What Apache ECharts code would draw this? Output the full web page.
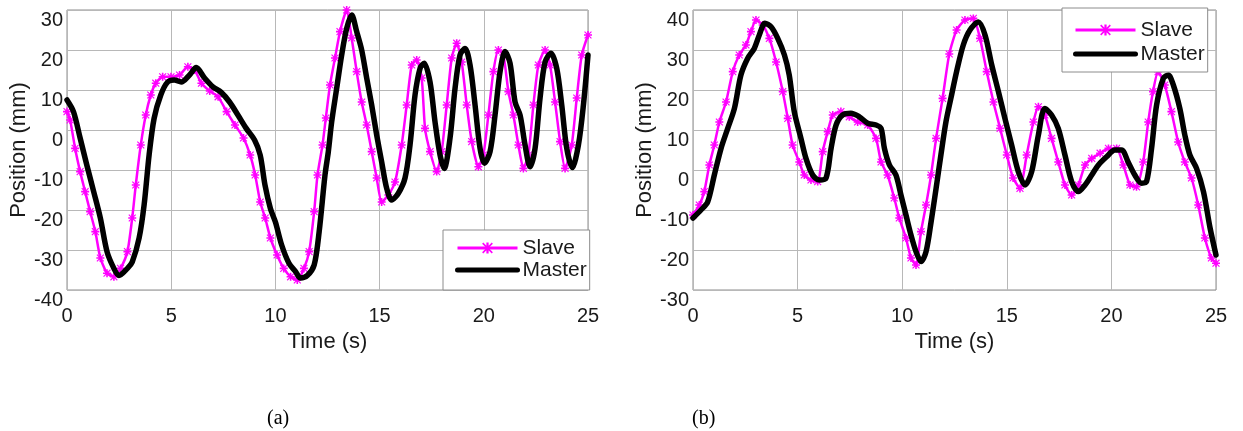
<!DOCTYPE html>
<html>
<head>
<meta charset="utf-8">
<script src="https://cdn.jsdelivr.net/npm/echarts@6/dist/echarts.min.js"></script>
<style>
html,body{margin:0;padding:0;background:#fff;}
#chart{width:1243px;height:431px;}
</style>
</head>
<body>
<div id="chart"></div>
<script>
// ---- Data ----
const xTicks = [0, 5, 10, 15, 20, 25];
const yTicksA = [-40, -30, -20, -10, 0, 10, 20, 30];
const yTicksB = [-30, -20, -10, 0, 10, 20, 30, 40];
const seriesNames = ['Slave', 'Master'];
const captions = ['(a)', '(b)'];

// Plot (a)
const slaveA_t = [0,0.15,0.39,0.63,0.87,1.11,1.36,1.6,1.92,2.25,2.57,2.9,3.13,3.3,3.54,3.78,4.02,4.26,4.59,4.99,5.4,5.8,6.12,6.45,6.85,7.25,7.66,8.06,8.47,8.79,9.03,9.27,9.51,9.76,10.08,10.4,10.73,11.05,11.37,11.62,11.86,12.02,12.26,12.42,12.62,12.86,13.1,13.42,13.66,13.9,14.14,14.38,14.62,14.86,15.1,15.42,15.74,16.06,16.3,16.54,16.78,17.02,17.18,17.42,17.74,17.98,18.22,18.46,18.7,18.94,19.18,19.42,19.74,19.98,20.22,20.46,20.7,20.94,21.18,21.42,21.66,21.9,22.14,22.38,22.62,22.94,23.18,23.42,23.66,23.9,24.22,24.46,24.7,25];
const slaveA_v = [4.6,2.5,-4.6,-10.4,-15.4,-20.4,-25.4,-32,-35.8,-36.7,-34.6,-30.4,-22,-13.75,-3.75,3.75,8.75,11.7,13.3,13.3,13.75,15.8,15,11.7,9.75,8.3,4.6,1.25,-2,-6.25,-11.25,-18,-22,-27,-31.25,-34.6,-36.7,-37.5,-34.6,-30.4,-20.4,-11.25,-3.75,3,11.25,18,24.6,30,23,14.6,7,1.25,-5.4,-12,-18,-16.25,-13,-3.75,6.25,16.25,17.5,13,0.4,-5.4,-10.4,-5.4,6.25,18,21.7,17,6.25,-2.9,-9.2,-6.25,3.75,14.6,20,18.75,9.6,3.75,-3.75,-9.6,-6.25,6.25,16.25,20,16.25,7,-2.9,-9.6,-3.75,8,18.75,23.75];
const masterA_t = [0,0.31,0.63,0.95,1.28,1.6,1.92,2.25,2.49,2.9,3.13,3.46,3.7,3.94,4.18,4.5,4.83,5.15,5.48,5.88,6.2,6.6,7.0,7.4,7.8,8.2,8.6,9.0,9.27,9.5,9.76,10,10.3,10.65,10.97,11.2,11.53,11.86,12.1,12.38,12.54,12.7,12.94,13.18,13.42,13.66,13.9,14.14,14.38,14.62,14.86,15.1,15.34,15.58,15.9,16.22,16.46,16.7,16.94,17.14,17.42,17.66,17.9,18.1,18.38,18.62,18.86,19.1,19.34,19.58,19.82,20.03,20.3,20.54,20.78,21.02,21.26,21.5,21.74,21.98,22.22,22.46,22.7,22.94,23.22,23.5,23.74,23.98,24.25,24.54,24.78,25];
const masterA_v = [7.5,4.6,-2,-8.75,-15.4,-22,-30.4,-34.6,-36.4,-34.6,-33,-27,-18.75,-6.25,2.9,8.75,12,12.5,12,13.75,15.6,13,10.8,9.4,7,3.75,0.4,-2.5,-6.25,-13.75,-19.6,-23,-28.75,-33.3,-35.4,-37,-36.4,-33.75,-25.4,-11.25,-5.4,2,10.4,18.75,25.4,28.75,24.6,20,13,6.25,-1.25,-8,-14.6,-17.5,-15.8,-12,-3.75,8.75,15.4,16.7,12,2,-6.25,-9.6,-2,10.4,18.75,20.4,16.25,6.25,-4.6,-8.3,-5.4,3.75,14.6,19.6,16.7,7,3.75,-3.75,-9.2,-4.6,8,17,19.2,15.4,6.25,-4.6,-9.4,-3.75,6.25,18.75];

// Plot (b)
const slaveB_t = [0,0.3,0.54,0.78,1.02,1.26,1.58,1.9,2.21,2.53,2.77,3.01,3.33,3.65,3.97,4.29,4.53,4.76,5.08,5.32,5.64,5.96,6.2,6.44,6.68,7.07,7.47,7.87,8.35,8.75,8.99,9.3,9.62,9.86,10.18,10.42,10.66,10.9,11.14,11.38,11.62,11.93,12.25,12.6,13.0,13.4,13.72,14.04,14.36,14.68,15.0,15.3,15.63,15.95,16.27,16.51,16.82,17.14,17.46,17.78,18.1,18.42,18.74,19.06,19.46,19.86,20.25,20.57,20.89,21.2,21.52,21.76,21.99,22.23,22.55,22.87,23.19,23.51,23.83,24.15,24.47,24.78,25];
const slaveB_v = [-11.25,-8.75,-5.4,1.25,6.25,12,17,24.6,28.75,31.25,34.6,37.5,36.25,32.9,27,19.6,12.9,6.25,2,-1.25,-2.5,-2.9,4.6,9.6,13.75,14.6,13.3,12,11.25,7.9,2,-1.25,-7,-12,-17,-22,-23.75,-15.4,-8.75,-1.25,7.9,17.9,29,35,37.5,37.9,32.9,24.6,17,10.4,3.75,-2,-4.6,3.75,12,15.8,13.75,7.9,2,-3.75,-6.25,-3.75,1.25,2.9,4.2,5.4,5.4,1.25,-3.75,-4.2,2,12,19.6,24.6,21.25,14.6,7,2,-2,-8.75,-17,-22,-23.3];
const masterB_t = [0,0.38,0.7,1.02,1.34,1.66,1.98,2.29,2.61,2.93,3.17,3.44,3.73,4.05,4.37,4.6,4.84,5.16,5.4,5.72,6.04,6.36,6.6,6.84,7.15,7.55,7.95,8.35,8.75,8.99,9.15,9.39,9.7,9.94,10.18,10.42,10.66,10.9,11.14,11.38,11.62,11.85,12.09,12.33,12.6,12.92,13.24,13.64,13.96,14.28,14.6,14.91,15.23,15.55,15.87,16.19,16.51,16.82,17.14,17.46,17.78,18.1,18.42,18.74,19.06,19.38,19.77,20.17,20.49,20.8,21.12,21.44,21.68,21.92,22.16,22.48,22.72,22.96,23.27,23.51,23.75,24.07,24.4,24.72,25];
const masterB_v = [-12,-10,-8,-1.25,5.4,10.4,15.4,23.75,27.9,30.4,33.75,36.7,35.8,32.9,28.75,23.75,14.6,7.9,2.9,-1.25,-2.5,-2,5.4,11.25,13.75,14.2,13.3,11.7,11.25,10.4,5.4,1.25,-1.25,-6.25,-11.25,-16.25,-20.4,-22.9,-20.4,-13,-4.6,3.75,12,18,24.6,31.25,35,37,33.75,26.25,19.6,12.9,6.25,-0.4,-3.75,-0.4,8.75,15.4,13.75,10.4,3.75,-2.9,-5.4,-3.75,-1.25,1.25,3.3,5,5,2,-1.25,-3.3,-2.9,5.4,16.25,22.9,23.75,21.25,15.4,8.75,3.75,0.4,-5.4,-14.6,-21.25];

// ---- Chart ----
const zip = (t, v) => t.map((x, i) => [x, v[i]]);
const FONT = "'Liberation Sans', Arial, sans-serif";
const TXT = '#1a1a1a';
const MAGENTA = '#ff00ff';
const starPath = 'path://M4,0h2v10h-2z M0,4h10v2h-10z M1.2,0.2L9.8,8.8L8.8,9.8L0.2,1.2z M8.8,0.2L9.8,1.2L1.2,9.8L0.2,8.8z';

function xAxis(gi) {
  return {
    type: 'value', gridIndex: gi, min: 0, max: 25, interval: 5,
    name: 'Time (s)', nameLocation: 'middle', nameGap: 40,
    nameTextStyle: { fontFamily: FONT, fontSize: 22, color: TXT },
    axisLine: { show: false }, axisTick: { show: false },
    axisLabel: { fontFamily: FONT, fontSize: 20, color: TXT, margin: 16,
      formatter: v => xTicks.includes(v) ? String(v) : '' },
    splitLine: { show: true, lineStyle: { color: '#b8b8b8', width: 1 } }
  };
}
function yAxis(gi, ticks, gap) {
  return {
    type: 'value', gridIndex: gi, min: ticks[0], max: ticks[ticks.length - 1], interval: 10,
    name: 'Position (mm)', nameLocation: 'middle', nameGap: gap,
    nameTextStyle: { fontFamily: FONT, fontSize: 22, color: TXT },
    axisLine: { show: false }, axisTick: { show: false },
    axisLabel: { fontFamily: FONT, fontSize: 20, color: TXT, margin: 4,
      verticalAlign: 'top', lineHeight: 20,
      formatter: v => ticks.includes(v) ? String(v) : '' },
    splitLine: { show: true, lineStyle: { color: '#b8b8b8', width: 1 } }
  };
}
function slave(gi, t, v) {
  return {
    name: seriesNames[0], type: 'line', xAxisIndex: gi, yAxisIndex: gi,
    data: zip(t, v), smooth: 0.2, showAllSymbol: true,
    symbol: starPath, symbolSize: 8,
    lineStyle: { color: MAGENTA, width: 2.5 },
    itemStyle: { color: MAGENTA }, z: 2, animation: false
  };
}
function master(gi, t, v) {
  return {
    name: seriesNames[1], type: 'line', xAxisIndex: gi, yAxisIndex: gi,
    data: zip(t, v), smooth: 0.3, showSymbol: false, symbol: 'none',
    lineStyle: { color: '#000', width: 5.5, cap: 'round', join: 'round' },
    itemStyle: { color: '#000' }, z: 3, animation: false
  };
}
function legend(left, top, padding, itemGap) {
  return {
    data: [
      { name: seriesNames[0], lineStyle: { color: MAGENTA, width: 3 }, itemStyle: { color: MAGENTA } },
      { name: seriesNames[1], lineStyle: { color: '#000', width: 5 }, itemStyle: { opacity: 0 } }
    ],
    orient: 'vertical', left: left, top: top,
    itemWidth: 60, itemHeight: 14, itemGap: itemGap,
    padding: padding,
    borderColor: '#8c8c8c', borderWidth: 1, backgroundColor: '#fff',
    textStyle: { fontFamily: FONT, fontSize: 21, color: TXT, lineHeight: 22 },
    selectedMode: false
  };
}

const chart = echarts.init(document.getElementById('chart'), null, { renderer: 'canvas' });
chart.setOption({
  animation: false,
  backgroundColor: '#fff',
  grid: [
    { left: 67, top: 10, width: 521, height: 280, show: true, borderColor: '#8c8c8c', borderWidth: 1, backgroundColor: 'transparent' },
    { left: 693, top: 10, width: 523, height: 280, show: true, borderColor: '#8c8c8c', borderWidth: 1, backgroundColor: 'transparent' }
  ],
  xAxis: [xAxis(0), xAxis(1)],
  yAxis: [yAxis(0, yTicksA, 33), yAxis(1, yTicksB, 29)],
  legend: [legend(443, 230, [7, 3, 9, 12], 0), legend(1062, 8, [11, 3, 7, 11], 2)],
  series: [
    slave(0, slaveA_t, slaveA_v), master(0, masterA_t, masterA_v),
    slave(1, slaveB_t, slaveB_v), master(1, masterB_t, masterB_v)
  ],
  graphic: [
    { type: 'text', left: 267, top: 409, style: { text: captions[0], font: "20px 'Liberation Serif', 'Times New Roman', serif", fill: '#000' } },
    { type: 'text', left: 692, top: 409, style: { text: captions[1], font: "20px 'Liberation Serif', 'Times New Roman', serif", fill: '#000' } }
  ]
});
</script>
</body>
</html>
